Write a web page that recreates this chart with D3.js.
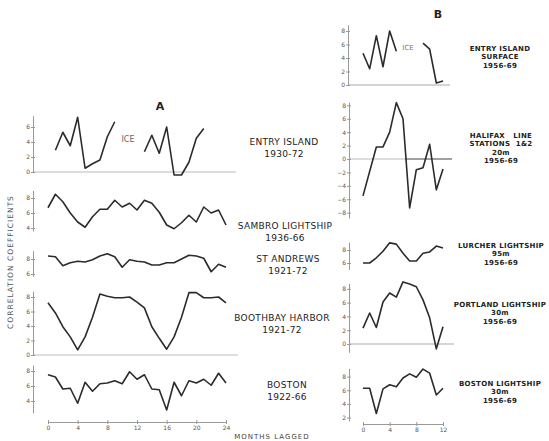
<!DOCTYPE html>
<html>
<head>
<meta charset="utf-8">
<script src="https://cdn.jsdelivr.net/npm/d3@7"></script>
<style>
  html, body { margin: 0; padding: 0; background: #fff; }
  svg { display: block; }
  .lbl { font-family: "DejaVu Sans", sans-serif; fill: #222; }
  .tick text { font-family: "DejaVu Sans", sans-serif; fill: #555; }
</style>
</head>
<body>
<svg id="chart" width="549" height="441"></svg>
<script>
// ---- Data: correlation coefficients (x10) by months lagged ----
// Panel A (lags 0-24 months)
const monthsA = d3.range(0, 25);
const entryA1Months = [1, 2, 3, 4, 5, 6, 7, 8, 9];
const entryA1 = [2.9, 5.3, 3.5, 7.3, 0.5, 1.1, 1.6, 4.7, 6.7];
const entryA2Months = [13, 14, 15, 16, 17, 18, 19, 20, 21];
const entryA2 = [2.7, 4.9, 2.5, 6.0, -0.4, -0.4, 1.3, 4.5, 5.8];
const sambro = [6.7, 8.5, 7.5, 6.0, 4.8, 4.1, 5.5, 6.5, 6.5, 7.7, 6.8, 7.3, 6.4,
                7.7, 7.3, 6.1, 4.4, 3.9, 4.7, 5.7, 4.8, 6.8, 6.0, 6.4, 4.4];
const stAndrews = [8.4, 8.3, 7.1, 7.5, 7.7, 7.6, 7.9, 8.4, 8.7, 8.3, 6.9, 7.9, 7.7,
                   7.6, 7.2, 7.2, 7.5, 7.5, 8.0, 8.5, 8.4, 8.1, 6.3, 7.3, 6.9];
const boothbay = [7.2, 5.8, 3.9, 2.5, 0.7, 2.5, 5.2, 8.4, 8.1, 7.9, 7.9, 8.0, 7.3,
                  6.5, 3.9, 2.3, 0.8, 2.5, 5.2, 8.6, 8.6, 7.9, 7.9, 8.0, 7.2];
const bostonA = [7.5, 7.2, 5.6, 5.7, 3.7, 6.5, 5.3, 6.3, 6.4, 6.7, 6.3, 7.9, 6.9,
                 7.5, 5.6, 5.5, 2.8, 6.5, 4.7, 6.7, 6.4, 6.9, 6.1, 7.7, 6.4];

// Panel B (lags 0-12 months)
const monthsB = d3.range(0, 13);
const entryB1Months = [0, 1, 2, 3, 4, 5];
const entryB1 = [4.7, 2.4, 7.3, 2.7, 8.0, 5.0];
const entryB2Months = [9, 10, 11, 12];
const entryB2 = [6.2, 5.3, 0.3, 0.6];
const halifaxMonths = [0, 2, 3, 4, 5, 6, 7, 8, 9, 10, 11, 12];
const halifax = [-5.5, 1.8, 1.8, 4.0, 8.4, 6.0, -7.3, -1.6, -1.3, 2.2, -4.6, -1.5];
const lurcher = [6.0, 6.0, 6.8, 7.8, 9.1, 8.9, 7.5, 6.3, 6.3, 7.5, 7.7, 8.6, 8.3];
const portland = [2.3, 4.5, 2.4, 6.1, 7.4, 6.8, 9.0, 8.7, 8.3, 6.4, 3.8, -0.7, 2.5];
const bostonB = [6.3, 6.3, 2.6, 6.2, 6.8, 6.5, 7.8, 8.4, 7.9, 9.1, 8.5, 5.3, 6.3];

// Tick labels
const xTicksA = [0, 4, 8, 12, 16, 20, 24];
const xTicksB = [0, 4, 8, 12];
const yTicksEntryA = [0, 2, 4, 6];
const yTicksSambro = [4, 6, 8];
const yTicksStAndrews = [6, 8];
const yTicksBoothbay = [0, 2, 4, 6, 8];
const yTicksBostonA = [4, 6, 8];
const yTicksEntryB = [0, 2, 4, 6, 8];
const yTicksHalifax = [-8, -6, -4, -2, 0, 2, 4, 6, 8];
const yTicksLurcher = [6, 8];
const yTicksPortland = [0, 2, 4, 6, 8];
const yTicksBostonB = [2, 4, 6, 8];

// Station labels
const labelsA = [["ENTRY ISLAND", "1930-72"], ["SAMBRO LIGHTSHIP", "1936-66"],
                 ["ST ANDREWS", "1921-72"], ["BOOTHBAY HARBOR", "1921-72"],
                 ["BOSTON", "1922-66"]];
const labelsB = [["ENTRY ISLAND", "SURFACE", "1956-69"],
                 ["HALIFAX   LINE", "STATIONS  1&2", "20m", "1956-69"],
                 ["LURCHER LIGHTSHIP", "95m", "1956-69"],
                 ["PORTLAND LIGHTSHIP", "30m", "1956-69"],
                 ["BOSTON LIGHTSHIP", "30m", "1956-69"]];

// ---- Layout ----
const svg = d3.select("#chart");
const xA = d3.scaleLinear([0, 24], [48, 226]);
const xB = d3.scaleLinear([0, 12], [363, 443]);

const panels = [
  { x: xA, axisX: 33, domain: [0, 7.5], range: [172, 115.75], ticks: yTicksEntryA,
    series: [[entryA1Months, entryA1], [entryA2Months, entryA2]], zero: [[33, 236, "#bbb"]] },
  { x: xA, axisX: 33, domain: [3.6, 9], range: [231, 190.5], ticks: yTicksSambro,
    series: [[monthsA, sambro]] },
  { x: xA, axisX: 33, domain: [5.7, 9.1], range: [276.25, 250.75], ticks: yTicksStAndrews,
    series: [[monthsA, stAndrews]] },
  { x: xA, axisX: 33, domain: [0, 8.8], range: [355, 291.2], ticks: yTicksBoothbay,
    series: [[monthsA, boothbay]], zero: [[33, 238, "#bbb"]] },
  { x: xA, axisX: 33, domain: [2.4, 8.8], range: [413, 365], ticks: yTicksBostonA,
    series: [[monthsA, bostonA]] },
  { x: xB, axisX: 348, domain: [0, 8.9], range: [85, 24.9], ticks: yTicksEntryB,
    series: [[entryB1Months, entryB1], [entryB2Months, entryB2]], zero: [[348, 450, "#aaa"]] },
  { x: xB, axisX: 349, domain: [-8.8, 8.5], range: [218, 102], ticks: yTicksHalifax,
    series: [[halifaxMonths, halifax]], zero: [[349, 405, "#bbb"], [405, 452, "#444"]] },
  { x: xB, axisX: 349, domain: [5, 9.2], range: [269.5, 242.2], ticks: yTicksLurcher,
    series: [[monthsB, lurcher]] },
  { x: xB, axisX: 349, domain: [-1.2, 8.8], range: [352.3, 283.3], ticks: yTicksPortland,
    series: [[monthsB, portland]], zero: [[349, 454, "#aaa"]] },
  { x: xB, axisX: 349, domain: [1.5, 9.2], range: [421, 368.4], ticks: yTicksBostonB,
    series: [[monthsB, bostonB]] }
];

const line = (x, y) => d3.line().x(d => x(d[0])).y(d => y(d[1]));

panels.forEach(p => {
  const y = d3.scaleLinear(p.domain, p.range);
  // zero reference line
  (p.zero || []).forEach(z => {
    svg.append("line").attr("x1", z[0]).attr("x2", z[1])
      .attr("y1", y(0)).attr("y2", y(0))
      .attr("stroke", z[2]).attr("stroke-width", 1.2);
  });
  // y axis
  const g = svg.append("g").attr("transform", `translate(${p.axisX},0)`)
    .call(d3.axisLeft(y).tickValues(p.ticks).tickSize(3).tickPadding(1)
      .tickSizeOuter(0).tickFormat(d3.format("d")));
  g.select(".domain").attr("stroke", "#999").attr("stroke-width", 1);
  g.selectAll(".tick line").attr("stroke", "#999").attr("x2", 2).attr("x1", -2);
  g.selectAll(".tick text").attr("font-size", 6).attr("x", -3);
  // data lines
  p.series.forEach(([m, v]) => {
    svg.append("path")
      .datum(m.map((mm, i) => [mm, v[i]]))
      .attr("d", line(p.x, y))
      .attr("fill", "none")
      .attr("stroke", "#2b2b2b")
      .attr("stroke-width", 1.6)
      .attr("stroke-linejoin", "round");
  });
});

// x axes
function xAxis(scale, ticks, yPos) {
  const g = svg.append("g").attr("transform", `translate(0,${yPos})`)
    .call(d3.axisBottom(scale).tickValues(ticks).tickSize(2).tickPadding(2).tickSizeOuter(0));
  g.select(".domain").attr("stroke", "#999");
  g.selectAll(".tick line").attr("stroke", "#999").attr("y1", -2);
  g.selectAll(".tick text").attr("font-size", 6);
}
xAxis(xA, xTicksA, 422);
xAxis(xB, xTicksB, 424);

// ICE annotations
svg.append("text").attr("class", "lbl").attr("x", 128).attr("y", 142)
  .attr("text-anchor", "middle").attr("font-size", 8).attr("fill", "#666")
  .style("fill", "#666").text("ICE");
svg.append("text").attr("class", "lbl").attr("x", 408).attr("y", 50)
  .attr("text-anchor", "middle").attr("font-size", 7).style("fill", "#777").text("ICE");

// Panel letters
svg.append("text").attr("class", "lbl").attr("x", 160).attr("y", 110)
  .attr("text-anchor", "middle").attr("font-size", 11).attr("font-weight", "bold").text("A");
svg.append("text").attr("class", "lbl").attr("x", 438).attr("y", 18)
  .attr("text-anchor", "middle").attr("font-size", 11).attr("font-weight", "bold").text("B");

// Station labels, panel A
const labelAPos = [[284, 145], [285, 229], [288, 262], [282, 321], [287, 388]];
labelsA.forEach((lines, i) => {
  const t = svg.append("text").attr("class", "lbl")
    .attr("x", labelAPos[i][0]).attr("y", labelAPos[i][1])
    .attr("text-anchor", "middle").attr("font-size", 9).attr("letter-spacing", 0.3);
  lines.forEach((s, j) => t.append("tspan").attr("x", labelAPos[i][0])
    .attr("dy", j === 0 ? 0 : 12).text(s));
});

// Station labels, panel B
const labelBPos = [[500, 51], [501, 138], [501, 248], [500, 307], [500, 386]];
labelsB.forEach((lines, i) => {
  const t = svg.append("text").attr("class", "lbl")
    .attr("x", labelBPos[i][0]).attr("y", labelBPos[i][1])
    .attr("text-anchor", "middle").attr("font-size", 7).attr("font-weight", "bold")
    .attr("letter-spacing", 0.3).style("white-space", "pre");
  lines.forEach((s, j) => t.append("tspan").attr("x", labelBPos[i][0])
    .attr("dy", j === 0 ? 0 : 8.3).text(s));
});

// Axis titles
svg.append("text").attr("class", "lbl")
  .attr("transform", "translate(13,262) rotate(-90)")
  .attr("text-anchor", "middle").attr("font-size", 7.5).attr("letter-spacing", 1)
  .style("fill", "#555").text("CORRELATION COEFFICIENTS");
svg.append("text").attr("class", "lbl").attr("x", 272).attr("y", 439)
  .attr("text-anchor", "middle").attr("font-size", 7).attr("letter-spacing", 1)
  .style("fill", "#444").text("MONTHS LAGGED");
</script>
</body>
</html>
